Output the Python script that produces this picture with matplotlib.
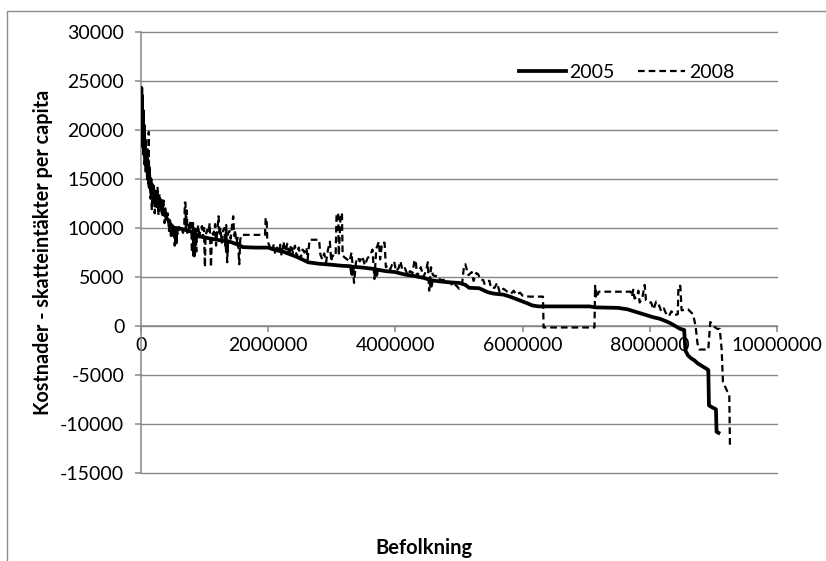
import numpy as np
import matplotlib
matplotlib.use('Agg')
import matplotlib.pyplot as plt
import matplotlib.ticker as ticker
from matplotlib.patches import Rectangle

plt.rcParams['font.family'] = ['Lato', 'DejaVu Sans']
plt.rcParams['axes.unicode_minus'] = False

# kumulativ befolkning (tusental) och nettokostnad per capita, 2005
bef_2005 = [0, 5, 10, 15, 20, 28, 35, 42, 50, 60, 70, 80, 90, 100, 110, 120, 135, 150, 165, 180,
            200, 220, 240, 260, 285, 310, 340, 370, 400, 430, 460, 490, 520, 545, 550, 556, 600, 640,
            700, 760, 800, 830, 835, 842, 880, 930, 1000, 1100, 1200, 1300, 1340, 1350, 1358, 1420,
            1500, 1560, 1600, 1800, 2000, 2050, 2150, 2250, 2350, 2450, 2550, 2630, 2800, 3000,
            3150, 3300, 3320, 3335, 3500, 3690, 3700, 3712, 3850, 4000, 4150, 4300, 4450, 4550,
            4560, 4572, 4700, 4850, 5000, 5100, 5160, 5320, 5450, 5550, 5700, 5800, 5900, 6000,
            6080, 6150, 6250, 6700, 7050, 7150, 7500, 7650, 7750, 7850, 7950, 8050, 8150, 8250,
            8320, 8400, 8480, 8540, 8560, 8600, 8650, 8700, 8750, 8800, 8850, 8900, 8920, 8930,
            8980, 9040, 9050, 9080]
netto_2005 = [22000, 24300, 21000, 23500, 19500, 22000, 18500, 20500, 17500, 19000, 16500, 18000,
              15800, 17000, 15000, 16200, 14200, 15000, 13500, 14200, 12800, 13500, 12300, 12900,
              12000, 12400, 11500, 11800, 11000, 10800, 10400, 10200, 10000, 9950, 8500, 10000,
              9950, 9900, 9800, 9700, 9600, 9500, 7200, 9400, 9300, 9150, 9050, 8900, 8800, 8700,
              8650, 7600, 8650, 8550, 8350, 8200, 8050, 8000, 8000, 7900, 7700, 7550, 7300, 7050,
              6750, 6500, 6350, 6250, 6150, 6100, 5300, 6050, 5950, 5800, 5200, 5750, 5600, 5500,
              5250, 5100, 4900, 4700, 4100, 4650, 4550, 4450, 4400, 4200, 3900, 3850, 3450, 3300,
              3200, 3000, 2750, 2500, 2300, 2100, 2000, 2000, 2000, 1900, 1850, 1700, 1500, 1300,
              1100, 900, 750, 500, 300, 0, -300, -400, -2500, -3000, -3300, -3500, -3800, -4000,
              -4200, -4400, -4500, -8100, -8300, -8500, -10800, -10900]

# samma kommuner, 2008
bef_2008 = [0, 5, 12, 18, 25, 32, 40, 48, 55, 65, 75, 85, 95, 105, 115, 122, 128, 140, 150, 160,
            170, 180, 195, 205, 215, 230, 245, 260, 275, 290, 305, 320, 340, 355, 370, 385, 400,
            420, 440, 455, 470, 485, 500, 515, 530, 545, 560, 580, 600, 620, 640, 660, 680, 690,
            700, 705, 720, 730, 745, 760, 775, 790, 800, 810, 820, 830, 840, 855, 870, 880, 900,
            915, 930, 960, 975, 990, 1005, 1015, 1040, 1060, 1080, 1100, 1115, 1140, 1165, 1180,
            1200, 1220, 1235, 1250, 1270, 1290, 1310, 1325, 1340, 1355, 1370, 1390, 1410, 1430,
            1450, 1465, 1480, 1500, 1520, 1545, 1560, 1580, 1800, 1950, 1960, 1975, 1985, 2000,
            2030, 2060, 2090, 2110, 2140, 2170, 2190, 2210, 2240, 2270, 2300, 2330, 2360, 2390,
            2420, 2450, 2480, 2510, 2540, 2570, 2600, 2620, 2650, 2800, 2820, 2850, 2880, 2910,
            2940, 2970, 2990, 3010, 3060, 3075, 3100, 3110, 3140, 3160, 3170, 3200, 3240, 3280,
            3310, 3350, 3380, 3410, 3440, 3480, 3520, 3560, 3600, 3640, 3670, 3700, 3740, 3760,
            3790, 3830, 3850, 3880, 3920, 3950, 3980, 4010, 4050, 4080, 4110, 4150, 4190, 4230,
            4270, 4300, 4320, 4340, 4370, 4400, 4440, 4480, 4510, 4530, 4560, 4590, 4620, 4680,
            4700, 4780, 4800, 4870, 4900, 4950, 5000, 5050, 5080, 5100, 5120, 5150, 5200, 5230,
            5270, 5300, 5340, 5380, 5400, 5440, 5480, 5500, 5560, 5600, 5640, 5700, 5760, 5820,
            5860, 5900, 5960, 6000, 6100, 6200, 6320, 6330, 6900, 7130, 7140, 7150, 7160, 7180,
            7200, 7500, 7700, 7720, 7740, 7760, 7800, 7820, 7840, 7880, 7920, 7940, 7980, 8020,
            8060, 8100, 8140, 8180, 8220, 8260, 8300, 8340, 8380, 8440, 8450, 8480, 8500, 8600,
            8680, 8720, 8750, 8780, 8920, 8950, 8980, 9020, 9060, 9100, 9130, 9150, 9220, 9250,
            9260]
netto_2008 = [21000, 24000, 20000, 23000, 18000, 21500, 17500, 20000, 16500, 18500, 15500, 17800,
              15000, 18000, 14500, 19800, 14000, 16000, 13000, 14800, 11800, 14500, 12500, 14300,
              11500, 13800, 12000, 14200, 11300, 13500, 12000, 13000, 11200, 12800, 10500, 12000,
              10800, 11500, 9700, 10800, 9200, 10300, 9000, 10000, 8200, 9800, 10000, 9300, 10100,
              9800, 9900, 9500, 10200, 12600, 12600, 10000, 11800, 9500, 10300, 9600, 10800, 10700,
              7500, 8500, 10500, 7000, 9800, 10200, 7600, 9500, 10300, 8900, 9800, 10200, 9000,
              10000, 6000, 9200, 9800, 9500, 10500, 6000, 9500, 9300, 10400, 8200, 9800, 11200,
              9200, 10000, 8500, 9700, 10000, 8200, 10300, 6500, 9500, 9700, 8900, 10200, 11200,
              9200, 9800, 8400, 9000, 6300, 8800, 9300, 9300, 9300, 11000, 11000, 8800, 8500, 8000,
              7600, 8400, 7300, 8000, 7500, 8300, 7200, 8600, 7600, 8400, 7200, 8300, 7400, 8200,
              7100, 8000, 6900, 7800, 7500, 8000, 6800, 8800, 8800, 7300, 6800, 7400, 6500, 7800,
              8600, 6600, 7200, 7100, 11500, 11500, 7200, 11500, 11500, 7200, 7000, 6800, 6600,
              7500, 4400, 6500, 7000, 6600, 7100, 6200, 6900, 7200, 7800, 4800, 7900, 8600, 6800,
              8500, 8500, 6000, 6200, 5800, 6300, 6600, 5600, 5900, 6600, 5700, 5900, 5200, 5600,
              5400, 6700, 6700, 5100, 5500, 6000, 5000, 5600, 6500, 3600, 6000, 5200, 5100, 5100,
              4700, 4700, 4500, 4500, 4000, 4200, 3800, 4400, 6200, 6300, 5800, 5200, 5500, 4600,
              5400, 5300, 4700, 4700, 4300, 4600, 4600, 3900, 3900, 4400, 3400, 3800, 3500, 3300,
              3600, 3200, 3400, 3100, 3000, 3000, 3000, -150, -150, -150, 4100, 3000, 3700, 3200,
              3500, 3500, 3500, 3000, 3700, 2800, 3000, 3600, 2400, 2800, 4200, 2600, 2400, 2400,
              1700, 2500, 2200, 1500, 1800, 1200, 1000, 1500, 1100, 1200, 4100, 4100, 1600, 1700,
              1200, 0, -1800, -2400, -2400, 400, 200, -100, -300, -300, -2400, -5700, -6700, -7000,
              -12300]

fig = plt.figure(figsize=(8.26, 5.61), dpi=100)
ax = fig.add_axes([141 / 826, 1 - 473 / 561, 636 / 826, 441 / 561])

grid_col = '#888888'
ax.plot(np.array(bef_2005) * 1000, netto_2005, color='black', lw=2.7,
        solid_joinstyle='round', label='2005', zorder=3)
ax.plot(np.array(bef_2008) * 1000, netto_2008, color='black', lw=1.6,
        linestyle=(0, (3, 1.8)), label='2008', zorder=4)

ax.set_xlim(0, 10000000)
ax.set_ylim(-15000, 30000)
ax.set_xticks(np.arange(0, 10000001, 2000000))
ax.set_yticks(np.arange(-15000, 30001, 5000))
fmt = ticker.FuncFormatter(lambda v, p: '%d' % v)
ax.xaxis.set_major_formatter(fmt)
ax.yaxis.set_major_formatter(fmt)

for s in ['top', 'right']:
    ax.spines[s].set_visible(False)
ax.spines['bottom'].set_position(('data', 0))
ax.spines['bottom'].set_color(grid_col)
ax.spines['left'].set_color(grid_col)
ax.spines['bottom'].set_linewidth(1.1)
ax.spines['left'].set_linewidth(1.1)

ax.tick_params(axis='both', colors=grid_col, labelcolor='black', labelsize=14,
               length=4, width=1.1, direction='out')
ax.tick_params(axis='y', pad=8)
ax.tick_params(axis='x', pad=4)

ax.yaxis.grid(True, color=grid_col, lw=1.0)
ax.set_axisbelow(True)
for gl in ax.get_ygridlines():
    gl.set_clip_on(False)

ax.legend(loc='center left', bbox_to_anchor=(519 / 826, 1 - 72 / 561),
          bbox_transform=fig.transFigure, ncol=2, frameon=False, fontsize=14,
          handlelength=2.4, handletextpad=0.2, columnspacing=1.2, borderpad=0,
          borderaxespad=0)

fig.text(43 / 826, 1 - 252 / 561, 'Kostnader - skatteintäkter per capita',
         rotation=90, ha='center', va='center', fontsize=14.2, fontweight='bold')
fig.text(424 / 826, 1 - 548 / 561, 'Befolkning', ha='center', va='center',
         fontsize=14.5, fontweight='bold')

# ram runt hela diagrammet
fig.patches.append(Rectangle((7 / 826, -0.1), 1.2, 1.1 - 11 / 561,
                             transform=fig.transFigure, fill=False,
                             edgecolor='#8c8c8c', lw=1.0))

fig.savefig('out.png', dpi=100)
